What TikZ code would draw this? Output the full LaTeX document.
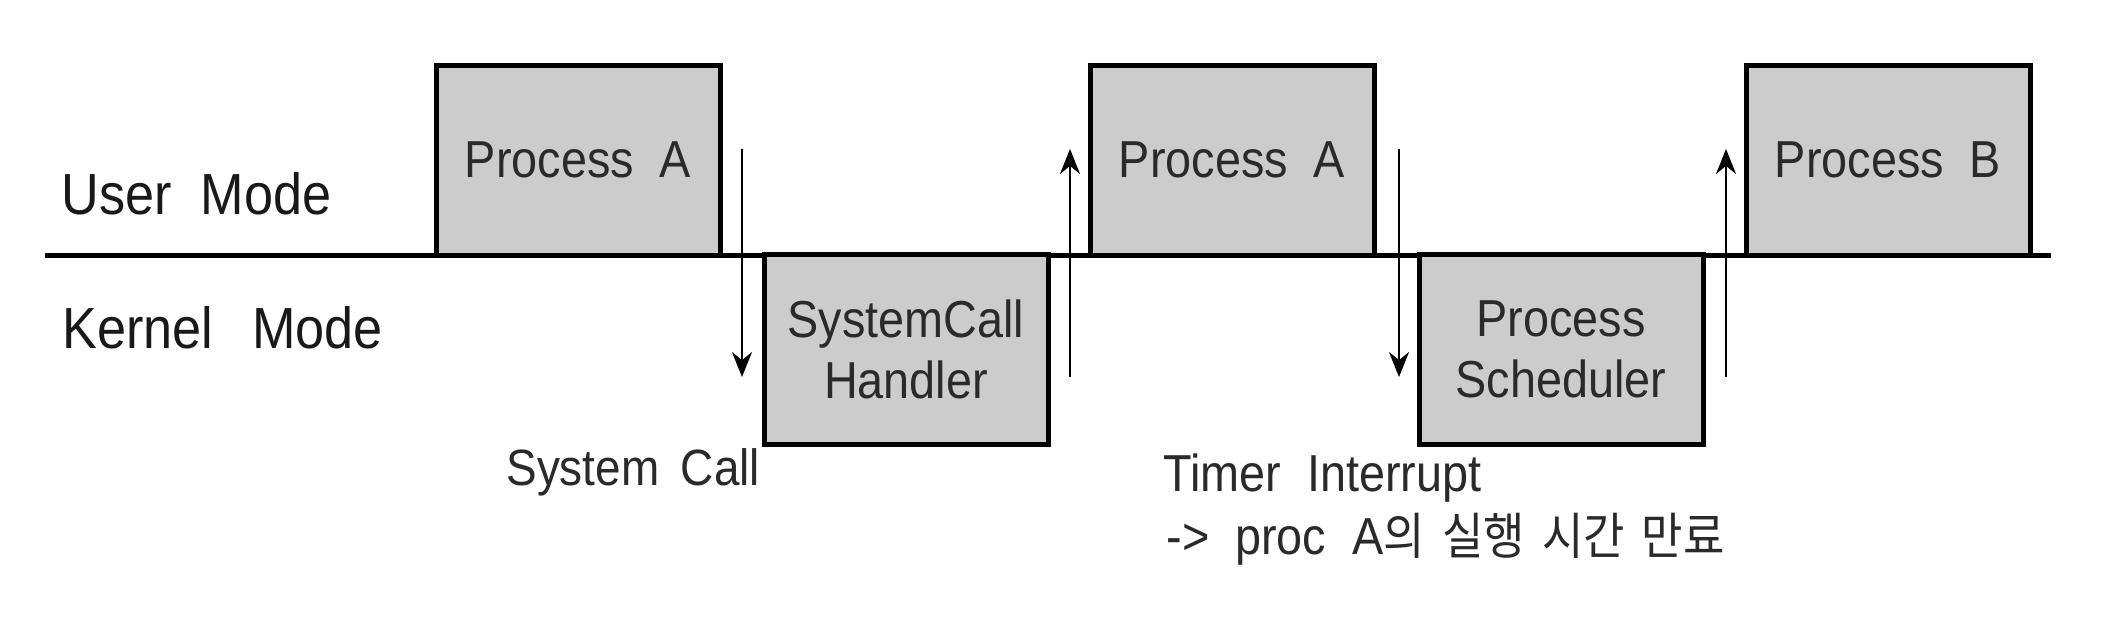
\documentclass[tikz,border=0pt]{standalone}
\usepackage{fontspec}
\setmainfont{Liberation Sans}[FakeStretch=0.9, WordSpace=2]
\newfontfamily\cjk{Noto Sans CJK KR}[FakeStretch=0.9, WordSpace=1.7]
\usetikzlibrary{arrows.meta}
\definecolor{boxfill}{HTML}{CCCCCC}
\definecolor{txt}{HTML}{2A2A2A}
\tikzset{
  modebox/.style={draw=black, fill=boxfill, line width=2.5pt, minimum width=142pt,
    minimum height=95pt, inner sep=0pt, align=center, text=txt,
    font=\fontsize{26}{30.5}\selectfont},
  modelabel/.style={anchor=base west, inner sep=0pt, text=black!90,
    font=\fontsize{29}{34}\selectfont},
  evlabel/.style={anchor=base west, inner sep=0pt, text=txt,
    font=\fontsize{26}{30}\selectfont},
  trans/.style={line width=1pt, -{Stealth[length=12.5pt, width=10pt]}},
  baseline/.style={line width=2.5pt}
}
\begin{document}
\begin{tikzpicture}[x=0.5pt, y=-0.5pt]
\useasboundingbox (0,0) rectangle (2118,616);
% boundary line
\coordinate (bl) at (45,255);
\coordinate (br) at (2051,255);
\draw[baseline] (bl) -- (br);
% mode labels
\node[modelabel] (user) at (61,214) {User Mode};
\node[modelabel] (kernel) at (62,348) {Kernel\hspace{5pt} Mode};
% boxes
\node[modebox] (pa1) at (578,160) {Process A};
\node[modebox] (sch) at (906,349) {SystemCall\\Handler};
\node[modebox] (pa2) at (1232,160) {Process A};
\node[modebox] (ps) at (1561,349) {Process\\Scheduler};
\node[modebox] (pb) at (1888,160) {Process B};
% arrows
\coordinate (d1s) at (742,149); \coordinate (d1e) at (742,377);
\coordinate (u1s) at (1070,377); \coordinate (u1e) at (1070,149);
\coordinate (d2s) at (1399,149); \coordinate (d2e) at (1399,377);
\coordinate (u2s) at (1726,377); \coordinate (u2e) at (1726,149);
\draw[trans] (d1s) -- (d1e);
\draw[trans] (u1s) -- (u1e);
\draw[trans] (d2s) -- (d2e);
\draw[trans] (u2s) -- (u2e);
% event labels
\node[evlabel, font=\fontsize{25.5}{30}\selectfont] (sc) at (506,485) {System\hspace{-2pt} Call};
\node[evlabel] (ti1) at (1163,491) {Timer Interrupt};
\node[evlabel] (ti2) at (1166,554) {-> proc A{\cjk\fontsize{25}{28}\selectfont 의 실행 시간 만료}};
\end{tikzpicture}
\end{document}
